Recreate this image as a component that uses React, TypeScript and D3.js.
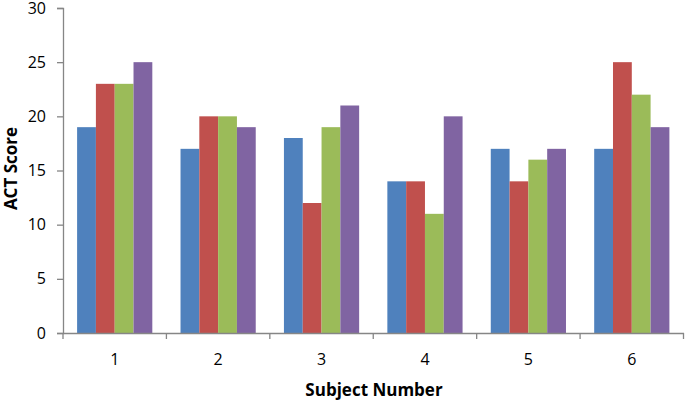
import React, { useRef, useEffect } from "react";
import * as d3 from "d3";

const subjects = ["1", "2", "3", "4", "5", "6"];
const seriesA = [19, 17, 18, 14, 17, 17];
const seriesB = [23, 20, 12, 14, 14, 25];
const seriesC = [23, 20, 19, 11, 16, 22];
const seriesD = [25, 19, 21, 20, 17, 19];
const yTicks = [0, 5, 10, 15, 20, 25, 30];
const colors = ["#4F81BD", "#C0504D", "#9BBB59", "#8064A2"];

const App = () => {
  const svgRef = useRef<SVGSVGElement>(null);

  useEffect(() => {
    const svg = d3.select(svgRef.current);
    svg.selectAll("*").remove(); // start clean

    const width = 685;
    const height = 400;
    const margin = { top: 8, right: 1.5, bottom: 67, left: 63 };
    const font = "'Open Sans', sans-serif";

    const series = [seriesA, seriesB, seriesC, seriesD];
    const rows = subjects.map((s, i) => ({
      subject: s,
      values: series.map((arr) => arr[i]),
    }));

    const x0 = d3
      .scaleBand()
      .domain(subjects)
      .range([margin.left, width - margin.right])
      .padding(0);

    // Excel-style gap width of 150%
    const barW = x0.bandwidth() / 5.5;
    const x1 = d3
      .scaleBand()
      .domain(d3.range(4).map(String))
      .range([barW * 0.75, x0.bandwidth() - barW * 0.75])
      .padding(0);

    const y = d3
      .scaleLinear()
      .domain([0, 30])
      .range([height - margin.bottom, margin.top]);

    // bars
    svg
      .append("g")
      .selectAll("g")
      .data(rows)
      .enter()
      .append("g")
      .attr("transform", (d) => `translate(${x0(d.subject)},0)`)
      .selectAll("rect")
      .data((d) => d.values)
      .enter()
      .append("rect")
      .attr("x", (d, i) => x1(String(i)) as number)
      .attr("y", (d) => y(d))
      .attr("width", x1.bandwidth())
      .attr("height", (d) => y(0) - y(d))
      .attr("fill", (d, i) => colors[i]);

    // y axis
    const yAxis = svg
      .append("g")
      .attr("transform", `translate(${margin.left},0)`)
      .call(d3.axisLeft(y).tickValues(yTicks).tickSize(6).tickPadding(11));
    yAxis.selectAll("path, line").attr("stroke", "#868686").attr("stroke-width", 1.3);
    yAxis
      .selectAll("text")
      .attr("font-family", font)
      .attr("font-size", 16)
      .attr("fill", "#000");

    // x axis
    const xAxis = svg
      .append("g")
      .attr("transform", `translate(0,${y(0)})`)
      .call(d3.axisBottom(x0).tickSize(0).tickPadding(21));
    xAxis.select("path").attr("stroke", "#868686").attr("stroke-width", 1.3);
    xAxis
      .selectAll("text")
      .attr("font-family", font)
      .attr("font-size", 16)
      .attr("fill", "#000");

    // category dividers on x axis
    const edges = subjects.map((s) => x0(s) as number).concat([width - margin.right]);
    svg
      .append("g")
      .selectAll("line")
      .data(edges)
      .enter()
      .append("line")
      .attr("x1", (d) => d)
      .attr("x2", (d) => d)
      .attr("y1", y(0))
      .attr("y2", y(0) + 6)
      .attr("stroke", "#868686")
      .attr("stroke-width", 1.3);

    // axis titles
    svg
      .append("text")
      .attr("transform", `translate(16.5,168.5) rotate(-90)`)
      .attr("text-anchor", "middle")
      .attr("font-family", font)
      .attr("font-weight", "bold")
      .attr("font-size", 17)
      .text("ACT Score");

    svg
      .append("text")
      .attr("x", 374)
      .attr("y", 396)
      .attr("text-anchor", "middle")
      .attr("font-family", font)
      .attr("font-weight", "bold")
      .attr("font-size", 17)
      .text("Subject Number");
  }, []);

  return (
    <svg
      ref={svgRef}
      width={685}
      height={400}
      style={{ position: "absolute", left: 0, top: 0, background: "#fff" }}
    ></svg>
  );
};

export default App;
